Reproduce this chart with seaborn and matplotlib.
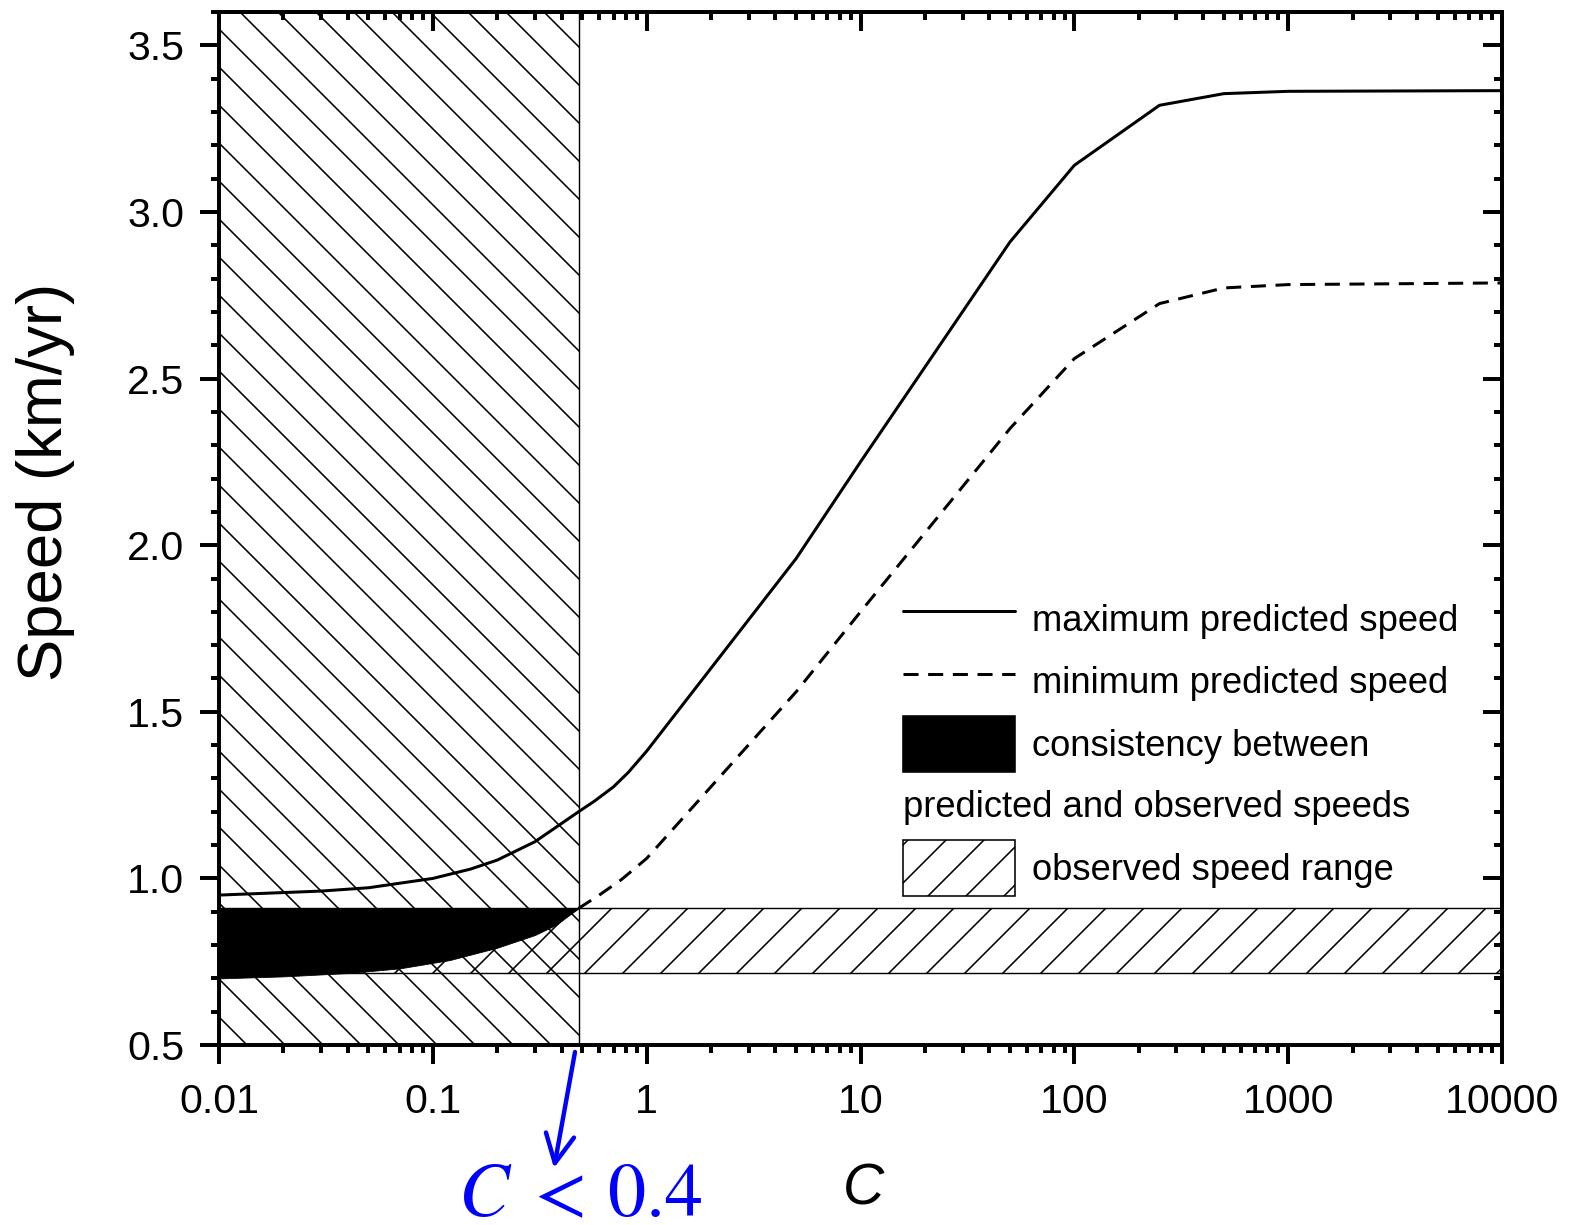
import numpy as np
import pandas as pd
import seaborn as sns
import matplotlib.pyplot as plt
from matplotlib.lines import Line2D
from matplotlib.patches import Patch
from matplotlib.ticker import LogLocator, NullFormatter, MultipleLocator

# values
c_max = [0.01, 0.03, 0.05, 0.1, 0.15, 0.2, 0.3, 0.4, 0.48, 0.57, 0.7, 0.82, 1,
         5, 10, 50, 100, 250, 500, 1000, 10000]
speed_max = [0.95, 0.962, 0.972, 1.0, 1.028, 1.055, 1.11, 1.165, 1.2, 1.232, 1.275, 1.318, 1.382,
             1.96, 2.25, 2.91, 3.14, 3.32, 3.355, 3.362, 3.364]

c_min = [0.01, 0.02, 0.04, 0.07, 0.12, 0.2, 0.3, 0.38, 0.43, 0.48, 0.6, 0.76, 0.85, 1,
         5, 10, 50, 100, 250, 500, 1000, 10000]
speed_min = [0.70, 0.706, 0.716, 0.73, 0.755, 0.792, 0.83, 0.862, 0.888, 0.91, 0.95, 0.996, 1.022,
             1.06, 1.56, 1.80, 2.35, 2.56, 2.725, 2.772, 2.782, 2.787]

obs_low, obs_high = 0.715, 0.91
c_limit = 0.48
x_ticks = [0.01, 0.1, 1, 10, 100, 1000, 10000]
x_ticklabels = ["0.01", "0.1", "1", "10", "100", "1000", "10000"]
y_ticks = [0.5, 1.0, 1.5, 2.0, 2.5, 3.0, 3.5]

sns.set_style("ticks")
plt.rcParams['font.family'] = ['Liberation Sans', 'DejaVu Sans']
plt.rcParams['axes.linewidth'] = 2.5
plt.rcParams['axes.edgecolor'] = 'black'
plt.rcParams['axes.labelcolor'] = 'black'
plt.rcParams['xtick.color'] = 'black'
plt.rcParams['ytick.color'] = 'black'
plt.rcParams['text.color'] = 'black'
plt.rcParams['hatch.linewidth'] = 1.0

dpi = 114
fig = plt.figure(figsize=(1572 / dpi, 1225 / dpi), dpi=dpi)
ax = fig.add_axes([0.1393, 0.1469, 0.8162, 0.8433])

df_max = pd.DataFrame({'c': c_max, 'speed': speed_max})
df_min = pd.DataFrame({'c': c_min, 'speed': speed_min})
df_min_right = df_min[df_min['c'] >= c_limit]
df_min_left = df_min[df_min['c'] <= c_limit]

# hatched regions
ax.axvspan(0.01, c_limit, facecolor='none', edgecolor='black', hatch='\\', lw=0.9, zorder=1)
ax.axhspan(obs_low, obs_high, facecolor='none', edgecolor='black', hatch='/', lw=0.9, zorder=1)

# consistency region
ax.fill_between(df_min_left['c'], df_min_left['speed'], obs_high, facecolor='black',
                edgecolor='black', lw=0.5, zorder=2)

dash = (0, (5.0, 3.2))
sns.lineplot(data=df_max, x='c', y='speed', ax=ax, color='black', lw=1.9, sort=False, zorder=3)
sns.lineplot(data=df_min_right, x='c', y='speed', ax=ax, color='black', lw=1.9, sort=False,
             linestyle=dash, zorder=3)

ax.set_xscale('log')
ax.set_xlim(0.01, 10000)
ax.set_ylim(0.5, 3.6)
ax.set_xticks(x_ticks)
ax.set_xticklabels(x_ticklabels)
ax.xaxis.set_minor_locator(LogLocator(base=10, subs=np.arange(2, 10)))
ax.xaxis.set_minor_formatter(NullFormatter())
ax.set_yticks(y_ticks)
ax.yaxis.set_minor_locator(MultipleLocator(0.1))
ax.tick_params(which='major', direction='out', length=12, width=2.5, labelsize=26)
ax.tick_params(which='minor', direction='out', length=5, width=2.5)
ax.tick_params(axis='y', which='major', pad=10)
ax.tick_params(axis='x', which='major', pad=12)

# inward ticks on top and right
secx = ax.secondary_xaxis('top')
secx.set_xticks(x_ticks)
secx.xaxis.set_minor_locator(LogLocator(base=10, subs=np.arange(2, 10)))
secx.xaxis.set_minor_formatter(NullFormatter())
secx.tick_params(which='major', direction='in', length=12, width=2.5, labeltop=False, labelbottom=False)
secx.tick_params(which='minor', direction='in', length=5, width=2.5)
secy = ax.secondary_yaxis('right')
secy.set_yticks(y_ticks)
secy.yaxis.set_minor_locator(MultipleLocator(0.1))
secy.tick_params(which='major', direction='in', length=12, width=2.5, labelright=False, labelleft=False)
secy.tick_params(which='minor', direction='in', length=5, width=2.5)

ax.set_ylabel("Speed (km/yr)", fontsize=40)
ax.yaxis.set_label_coords(-0.112, 0.545)
ax.set_xlabel("C", fontsize=36, fontstyle='italic')
ax.xaxis.set_label_coords(0.502, -0.114)

handles = [Line2D([], [], color='black', lw=1.9),
           Line2D([], [], color='black', lw=1.9, linestyle=dash),
           Patch(facecolor='black', edgecolor='black'),
           Line2D([], [], alpha=0),
           Patch(facecolor='white', edgecolor='black', hatch='/', lw=1.0)]
labels = ["maximum predicted speed", "minimum predicted speed", "consistency between", " ",
          "observed speed range"]
ax.legend(handles, labels, loc='upper left', bbox_to_anchor=(0.533, 0.439), frameon=False,
          fontsize=23, handlelength=3.07, handleheight=1.99, handletextpad=0.47,
          labelspacing=0.17, borderpad=0, borderaxespad=0)
ax.text(0.533, 0.2304, "predicted and observed speeds", transform=ax.transAxes, fontsize=23,
        ha='left', va='center')

# blue annotation below the axis
ax.annotate("", xy=(554 / 1572, 1 - 1168 / 1225), xycoords='figure fraction',
            xytext=(575 / 1572, 1 - 1052 / 1225), textcoords='figure fraction',
            arrowprops=dict(arrowstyle='->', color='blue', lw=2.8, mutation_scale=45,
                            shrinkA=0, shrinkB=0))
fig.text(580 / 1572, 1 - 1216 / 1225, r"$C\;<\,0.4$", color='blue', fontsize=48,
         ha='center', va='baseline', math_fontfamily='stix')

fig.savefig("out.png", dpi=dpi)
